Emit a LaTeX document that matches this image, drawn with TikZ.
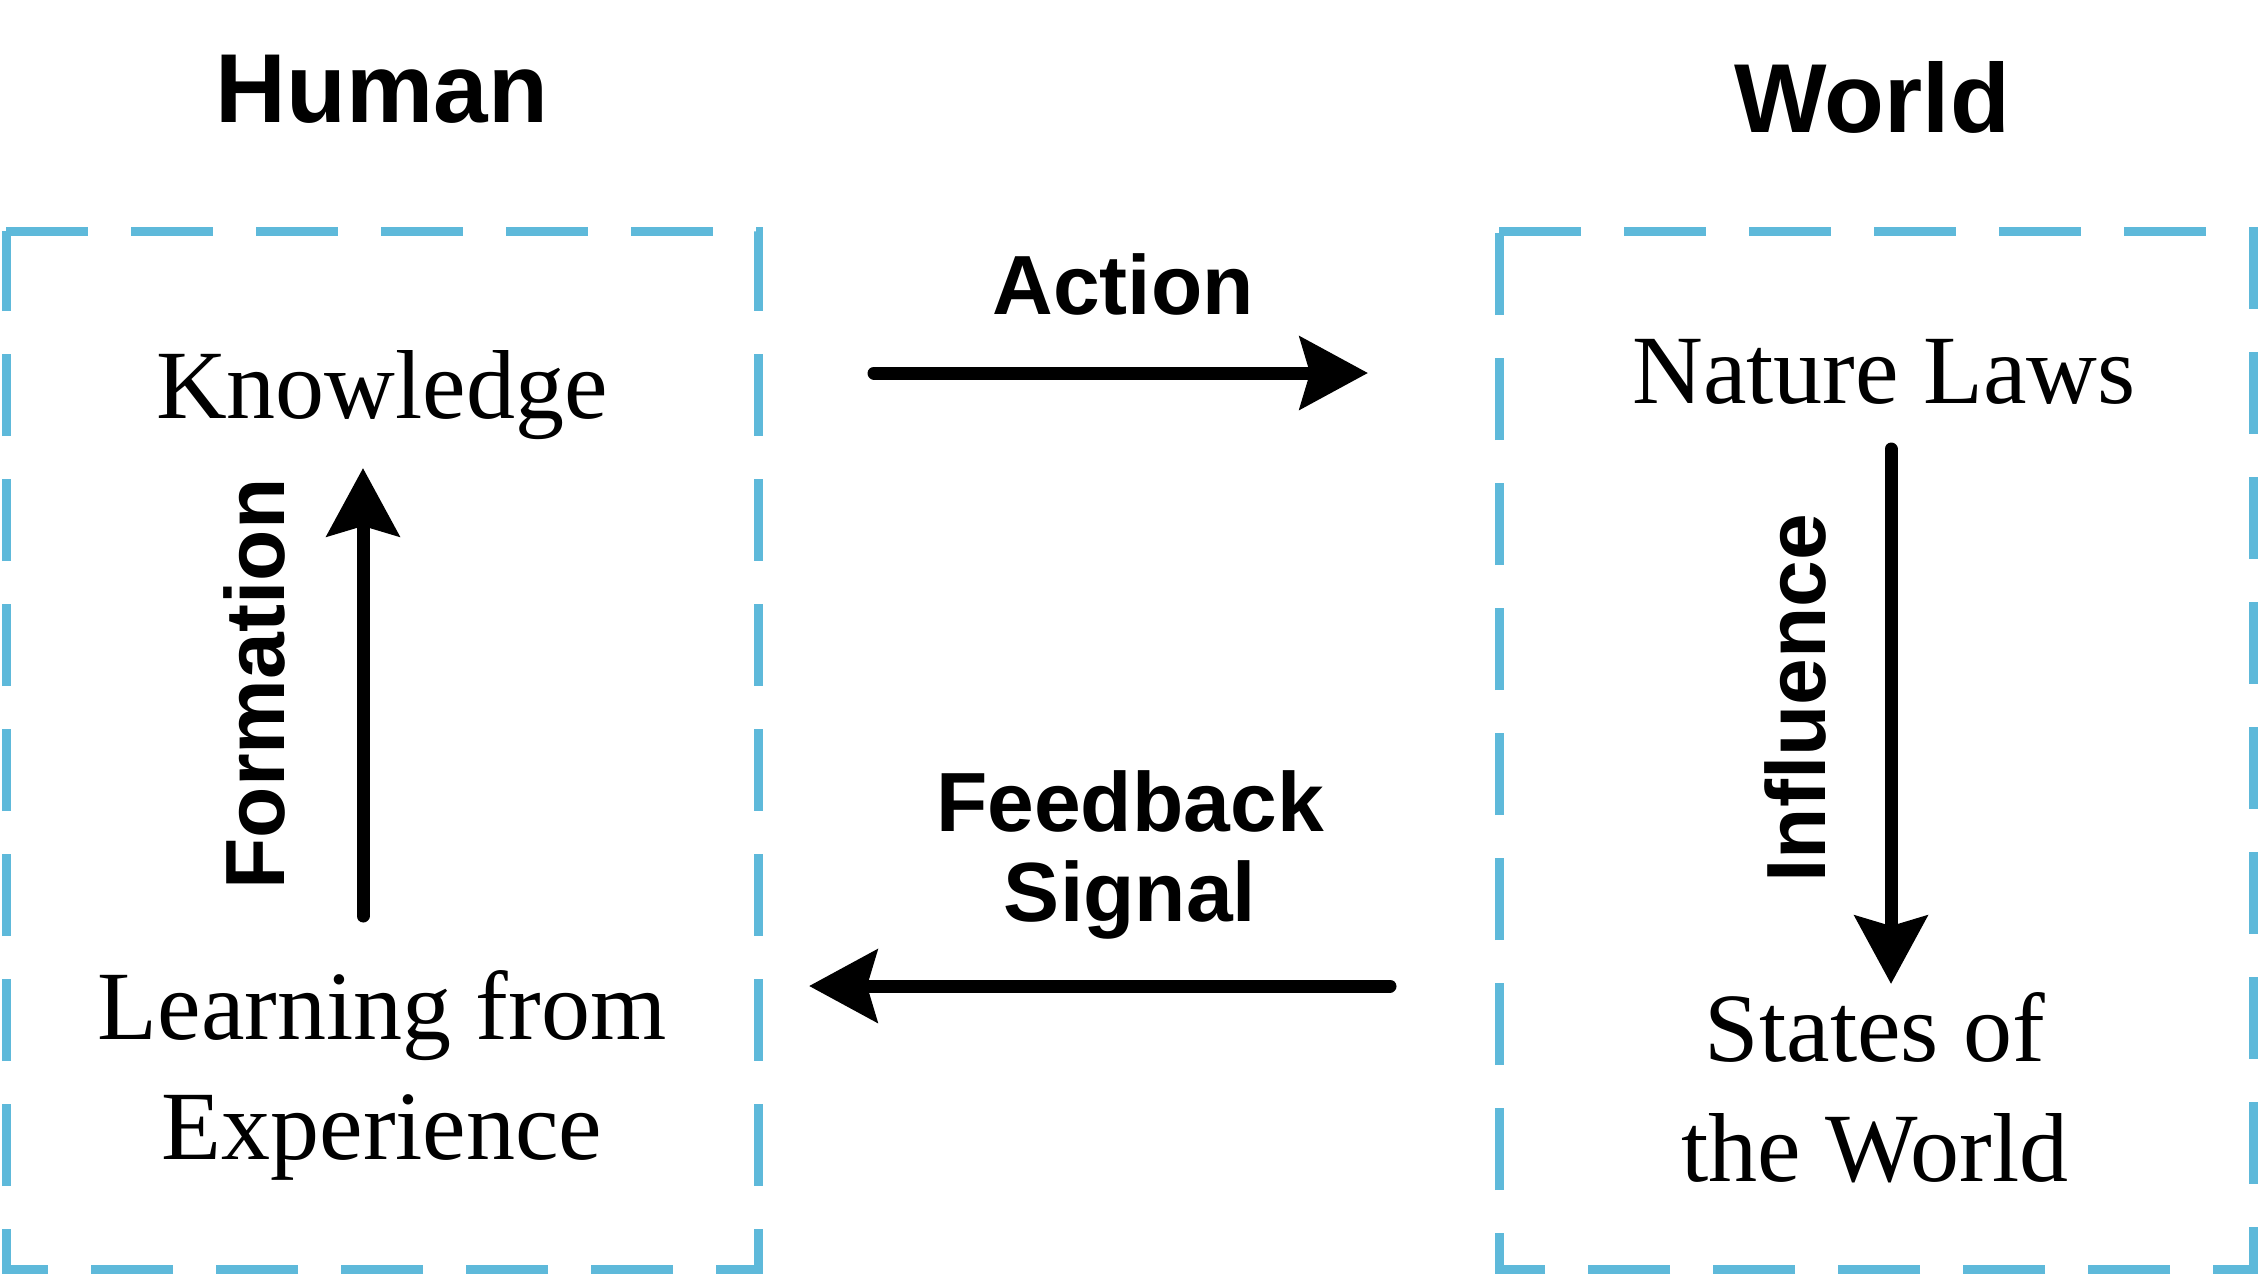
\documentclass[tikz,border=0pt]{standalone}
\usepackage{fontspec}
\setmainfont{Liberation Serif}
\newfontfamily\lsans{Liberation Sans}
\usetikzlibrary{arrows.meta}
\definecolor{boxblue}{RGB}{94,185,218}
\begin{document}
\begin{tikzpicture}[x=0.25pt,y=-0.25pt,
  boxline/.style={draw=boxblue, line width=2.25pt, dash pattern=on 20.5pt off 10.75pt},
  arr/.style={line width=3.25pt, line cap=round, -{Stealth[length=17pt,width=18pt,inset=2.5pt]}},
  title/.style={font=\lsans\bfseries\fontsize{24.5}{29}\selectfont, anchor=base, inner sep=0pt},
  lbl/.style={font=\lsans\bfseries\fontsize{21}{22.3}\selectfont, inner sep=0pt, align=center},
  txt/.style={font=\fontsize{24.5}{30}\selectfont, inner sep=0pt, align=center, anchor=base}]
  \useasboundingbox (0,0) rectangle (2258,1275);
  % boxes
  \coordinate (L1) at (6,231);
  \coordinate (L2) at (758,231);
  \coordinate (L3) at (758,1269);
  \coordinate (L4) at (6,1269);
  \coordinate (R1) at (1499,231);
  \coordinate (R2) at (2253,231);
  \coordinate (R3) at (2253,1269);
  \coordinate (R4) at (1499,1269);
  \draw[boxline] (L1) -- (L2) -- (L3) -- (L4) -- cycle;
  \draw[boxline] (R1) -- (R2) -- (R3) -- (R4) -- cycle;
  % titles
  \node[title] (human) at (382,122) {Human};
  \node[title] (world) at (1872,132) {World};
  % texts (base anchor = baseline of the last line)
  \node[txt] (know) at (382,418) {Knowledge};
  \node[txt] (learn) at (382,1159) {Learning from\\Experience};
  \node[txt] (laws) at (1884,403) {Nature Laws};
  \node[txt] (states) at (1875,1181) {States of\\the World};
  % arrows
  \coordinate (fa) at (363,916);
  \coordinate (fb) at (363,468);
  \coordinate (ia) at (1891,449);
  \coordinate (ib) at (1891,984);
  \coordinate (aa) at (874,373);
  \coordinate (ab) at (1368,373);
  \coordinate (ba) at (1390,986);
  \coordinate (bb) at (809,986);
  \draw[arr] (fa) -- (fb);
  \draw[arr] (ia) -- (ib);
  \draw[arr] (aa) -- (ab);
  \draw[arr] (ba) -- (bb);
  % labels
  \node[lbl, rotate=90] (form) at (254,684) {Formation};
  \node[lbl, rotate=90] (infl) at (1795,698) {Influence};
  \node[lbl, anchor=base] (act) at (1123,314) {Action};
  \node[lbl, anchor=base] (feed) at (1130,921) {Feedback\\Signal};
\end{tikzpicture}
\end{document}
